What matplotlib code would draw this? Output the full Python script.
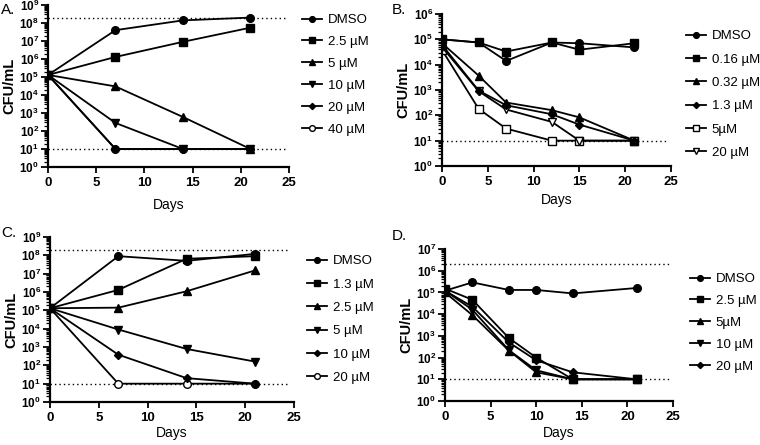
import numpy as np
import matplotlib
matplotlib.use("Agg")
import matplotlib.pyplot as plt
from matplotlib.ticker import FixedLocator, FuncFormatter, LogLocator, NullFormatter

plt.rcParams['font.family'] = ['Liberation Sans', 'DejaVu Sans']
plt.rcParams['mathtext.fontset'] = 'custom'
plt.rcParams['mathtext.rm'] = 'Liberation Sans'
plt.rcParams['mathtext.bf'] = 'Liberation Sans:bold'

# panel A
days_a = [0, 7, 14, 21]
labels_a = ['DMSO', '2.5 µM', '5 µM', '10 µM', '20 µM', '40 µM']
values_a = [
    [1.3e5, 4e7, 1.4e8, 2e8],
    [1.3e5, 1.3e6, 9e6, 5.5e7],
    [1.3e5, 3e4, 6e2, 10],
    [1.3e5, 2.8e2, 10, 10],
    [1.3e5, 10, 10, 10],
    [1.3e5, 10, 10, 10],
]
lines_a = [2e8, 10]

# panel B
days_b = [0, 4, 7, 12, 15, 21]
labels_b = ['DMSO', '0.16 µM', '0.32 µM', '1.3 µM', '5µM', '20 µM']
values_b = [
    [1e5, 7.5e4, 1.4e4, 7.5e4, 7e4, 4.8e4],
    [1e5, 7.5e4, 3.3e4, 7.5e4, 3.9e4, 7e4],
    [7e4, 3.7e3, 3.2e2, 1.6e2, 8.3e1, 10],
    [6e4, 9.5e2, 2.5e2, 1.1e2, 4.3e1, 10],
    [3.8e4, 1.8e2, 3e1, 10, 10, 10],
    [5e4, 9e2, 1.7e2, 5.5e1, 10, 10],
]
lines_b = [10]

# panel C
days_c = [0, 7, 14, 21]
labels_c = ['DMSO', '1.3 µM', '2.5 µM', '5 µM', '10 µM', '20 µM']
values_c = [
    [1.3e5, 9e7, 5e7, 1.2e8],
    [1.3e5, 1.3e6, 6.5e7, 9e7],
    [1.3e5, 1.4e5, 1.1e6, 1.5e7],
    [1.3e5, 9e3, 7.8e2, 1.6e2],
    [1.3e5, 3.8e2, 2e1, 10],
    [1.3e5, 10, 10, 10],
]
lines_c = [2e8, 10]

# panel D
days_d = [0, 3, 7, 10, 14, 21]
labels_d = ['DMSO', '2.5 µM', '5µM', '10 µM', '20 µM']
values_d = [
    [1.2e5, 2.9e5, 1.3e5, 1.3e5, 9e4, 1.6e5],
    [1.5e5, 4.6e4, 8e2, 1e2, 10, 10],
    [1e5, 9e3, 2.1e2, 2.1e1, 10, 10],
    [1.2e5, 1.6e4, 2.2e2, 2.6e1, 10, 10],
    [1.2e5, 2.2e4, 5e2, 7.5e1, 2.1e1, 10],
]
lines_d = [2e6, 10]

styles_a = [('o', 'k'), ('s', 'k'), ('^', 'k'), ('v', 'k'), ('D', 'k'), ('o', 'w')]
styles_b = [('o', 'k'), ('s', 'k'), ('^', 'k'), ('D', 'k'), ('s', 'w'), ('v', 'w')]
styles_c = styles_a
styles_d = [('o', 'k'), ('s', 'k'), ('^', 'k'), ('v', 'k'), ('D', 'k')]

W, H = 760, 445
fig = plt.figure(figsize=(7.6, 4.45), dpi=100)


def px_axes(left, right, top, bottom):
    return fig.add_axes([left / W, 1 - bottom / H, (right - left) / W, (bottom - top) / H])


def draw(ax, days, values, labels, styles, lines, ytop, leg_x, leg_y, leg_sp,
         xpad, letter, lx, ly):
    for v in lines:
        ax.plot([0, 24.6], [v, v], color='k', ls=(0, (1, 2.2)), lw=1.0, zorder=1)
    for vals, lab, (m, fc) in zip(values, labels, styles):
        ms = 4.2 if m == 'D' else 5.5
        if m in ('^', 'v'):
            ms = 6
        ax.plot(days, vals, color='k', lw=1.3, marker=m, ms=ms, mfc=fc,
                mec='k', mew=1.0, label=lab, zorder=3 if fc == 'k' else 2)
    ax.set_yscale('log')
    ax.set_ylim(1, 10 ** ytop)
    ax.set_xlim(0, 25)
    ax.set_xticks([0, 5, 10, 15, 20, 25])
    ax.yaxis.set_major_locator(FixedLocator([10.0 ** k for k in range(ytop + 1)]))
    ax.yaxis.set_major_formatter(FuncFormatter(lambda y, p: r'$\mathbf{10^{%d}}$' % round(np.log10(y))))
    ax.yaxis.set_minor_locator(LogLocator(base=10, subs=np.arange(2, 10), numticks=30))
    ax.yaxis.set_minor_formatter(NullFormatter())
    for lbl in ax.get_xticklabels():
        lbl.set_fontweight('bold')
    ax.tick_params(axis='x', labelsize=9.5, width=1.3, length=4, pad=3)
    ax.tick_params(axis='y', which='major', labelsize=8.5, width=1.3, length=5, pad=1.5)
    ax.tick_params(axis='y', which='minor', width=0.9, length=3)
    ax.spines['top'].set_visible(False)
    ax.spines['right'].set_visible(False)
    ax.spines['left'].set_linewidth(1.6)
    ax.spines['bottom'].set_linewidth(1.6)
    ax.set_xlabel('Days', fontsize=10, labelpad=xpad)
    ax.set_ylabel('CFU/mL', fontsize=10.5, fontweight='bold', labelpad=2)
    ax.legend(loc='upper left', bbox_to_anchor=(leg_x / W, 1 - leg_y / H),
              bbox_transform=fig.transFigure, frameon=False, fontsize=9.5,
              borderpad=0, borderaxespad=0, handlelength=1.5, handletextpad=0.45,
              labelspacing=leg_sp, markerscale=0.75)
    fig.text(lx / W, 1 - ly / H, letter, fontsize=11, ha='left', va='top')


ax_a = px_axes(48, 289, 5, 167)
draw(ax_a, days_a, values_a, labels_a, styles_a, lines_a, 9, 302, 14, 0.73, 7,
     'A.', 1, 3)

ax_b = px_axes(442, 671, 14, 166)
draw(ax_b, days_b, values_b, labels_b, styles_b, lines_b, 6, 686, 30, 0.84, 3.5,
     'B.', 392, 3)

ax_c = px_axes(50, 294, 237, 402)
draw(ax_c, days_c, values_c, labels_c, styles_c, lines_c, 9, 307, 255, 0.84, 2,
     'C.', 1, 226)

ax_d = px_axes(445, 673, 249, 401)
draw(ax_d, days_d, values_d, labels_d, styles_d, lines_d, 7, 690, 273, 0.73, 2,
     'D.', 392, 229)

fig.savefig('out.png', dpi=100)
